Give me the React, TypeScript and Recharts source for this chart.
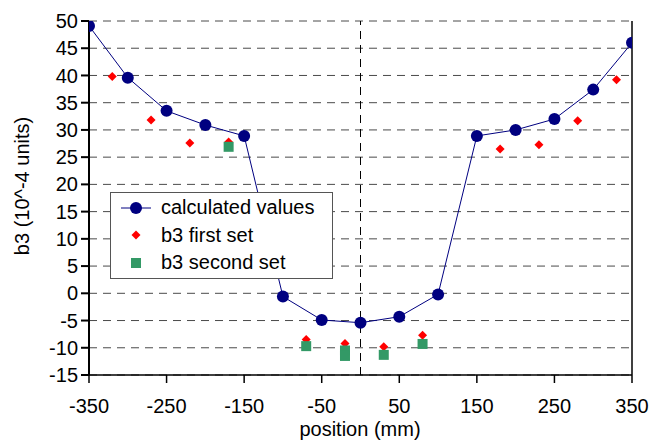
import { CartesianGrid, Label, Legend, ReferenceLine, Scatter, ScatterChart, XAxis, YAxis } from "recharts";

const CALC_POSITIONS = [-350, -300, -250, -200, -150, -100, -50, 0, 50, 100, 150, 200, 250, 300, 350];
const CALC_VALUES = [49.1, 39.6, 33.5, 30.9, 28.9, -0.6, -4.9, -5.4, -4.3, -0.2, 28.9, 30.0, 32.0, 37.4, 46.0];

const FIRST_POSITIONS = [-320, -270, -220, -170, -70, -20, 30, 80, 180, 230, 280, 330];
const FIRST_VALUES = [39.8, 31.8, 27.6, 27.8, -8.5, -9.2, -9.8, -7.7, 26.5, 27.3, 31.7, 39.2];

const SECOND_POSITIONS = [-170, -70, -20, -20, 30, 80];
const SECOND_VALUES = [26.9, -9.7, -10.5, -11.5, -11.3, -9.3];

const X_TICKS = [-350, -250, -150, -50, 50, 150, 250, 350];
const Y_TICKS = [-15, -10, -5, 0, 5, 10, 15, 20, 25, 30, 35, 40, 45, 50];

const SERIES_NAMES = ["calculated values", "b3 first set", "b3 second set"];

const COLORS = {
  calc: "#000080",
  first: "#ff0000",
  second: "#339966",
  grid: "#4a4a4a",
  text: "#000000",
};

const FONT = "'Liberation Sans', Arial, sans-serif";
const FONT_SIZE = 20;

const toPoints = (xs: number[], ys: number[]) => xs.map((x, i) => ({ x, y: ys[i] }));

const calcData = toPoints(CALC_POSITIONS, CALC_VALUES);
const firstData = toPoints(FIRST_POSITIONS, FIRST_VALUES);
const secondData = toPoints(SECOND_POSITIONS, SECOND_VALUES);

const CircleShape = (p: any) => <circle cx={p.cx} cy={p.cy} r={6} fill={COLORS.calc} />;
const DiamondShape = (p: any) => (
  <polygon
    points={`${p.cx},${p.cy - 4.5} ${p.cx + 4.5},${p.cy} ${p.cx},${p.cy + 4.5} ${p.cx - 4.5},${p.cy}`}
    fill={COLORS.first}
  />
);
const SquareShape = (p: any) => (
  <rect x={p.cx - 5} y={p.cy - 5} width={10} height={10} fill={COLORS.second} />
);

const tickStyle = { fill: COLORS.text, fontSize: FONT_SIZE, fontFamily: FONT };

function LegendBox() {
  const row = { display: "flex", alignItems: "center", height: 27.5 } as const;
  const icon = { width: 50, display: "flex", justifyContent: "center" } as const;
  return (
    <div
      style={{
        width: 221,
        height: 84,
        border: "1px solid #555",
        background: "#fff",
        boxSizing: "content-box",
        paddingTop: 1,
        fontFamily: FONT,
        fontSize: FONT_SIZE,
        color: COLORS.text,
      }}
    >
      <div style={row}>
        <div style={icon}>
          <svg width={32} height={14}>
            <line x1={1} y1={7} x2={31} y2={7} stroke={COLORS.calc} strokeWidth={1} />
            <circle cx={16} cy={7} r={6} fill={COLORS.calc} />
          </svg>
        </div>
        <span>{SERIES_NAMES[0]}</span>
      </div>
      <div style={row}>
        <div style={icon}>
          <svg width={10} height={10}>
            <polygon points="5,0.5 9.5,5 5,9.5 0.5,5" fill={COLORS.first} />
          </svg>
        </div>
        <span>{SERIES_NAMES[1]}</span>
      </div>
      <div style={row}>
        <div style={icon}>
          <svg width={10} height={10}>
            <rect x={0} y={0} width={10} height={10} fill={COLORS.second} />
          </svg>
        </div>
        <span>{SERIES_NAMES[2]}</span>
      </div>
    </div>
  );
}

export default function App() {
  return (
    <div style={{ position: "absolute", left: 0, top: 0, width: 651, height: 440, background: "#fff" }}>
      <ScatterChart width={651} height={440} margin={{ top: 21, right: 19, bottom: 0, left: 0 }}>
        <CartesianGrid vertical={false} stroke={COLORS.grid} strokeDasharray="8 6" />
        <XAxis
          type="number"
          dataKey="x"
          domain={[-350, 350]}
          ticks={X_TICKS}
          interval={0}
          height={65}
          tick={tickStyle}
          tickSize={8}
          tickMargin={16}
          stroke="#000"
          strokeWidth={1.5}
          allowDataOverflow
        >
          <Label
            content={() => (
              <text x={360} y={431} textAnchor="middle" dominantBaseline="middle" fontFamily={FONT} fontSize={FONT_SIZE} fill={COLORS.text}>
                position (mm)
              </text>
            )}
          />
        </XAxis>
        <YAxis
          type="number"
          dataKey="y"
          domain={[-15, 50]}
          ticks={Y_TICKS}
          interval={0}
          width={89}
          tick={tickStyle}
          tickSize={8}
          tickMargin={3}
          stroke="#000"
          strokeWidth={2}
          allowDataOverflow
        >
          <Label
            content={() => (
              <text
                x={24}
                y={186}
                transform="rotate(-90 24 186)"
                textAnchor="middle"
                dominantBaseline="middle"
                fontFamily={FONT}
                fontSize={FONT_SIZE}
                fill={COLORS.text}
              >
                b3 (10^-4 units)
              </text>
            )}
          />
        </YAxis>
        <ReferenceLine x={0} stroke="#000" strokeDasharray="8 6" />
        <ReferenceLine x={350} stroke="#000" strokeWidth={1.5} />
        <Legend
          layout="horizontal"
          align="center"
          verticalAlign="middle"
          wrapperStyle={{ left: 110, top: 192, width: 223, height: 86 }}
          content={() => <LegendBox />}
        />
        <Scatter
          name={SERIES_NAMES[0]}
          data={calcData}
          line={{ stroke: COLORS.calc, strokeWidth: 1 }}
          lineType="joint"
          shape={CircleShape}
          isAnimationActive={false}
        />
        <Scatter name={SERIES_NAMES[1]} data={firstData} shape={DiamondShape} isAnimationActive={false} />
        <Scatter name={SERIES_NAMES[2]} data={secondData} shape={SquareShape} isAnimationActive={false} />
      </ScatterChart>
    </div>
  );
}
